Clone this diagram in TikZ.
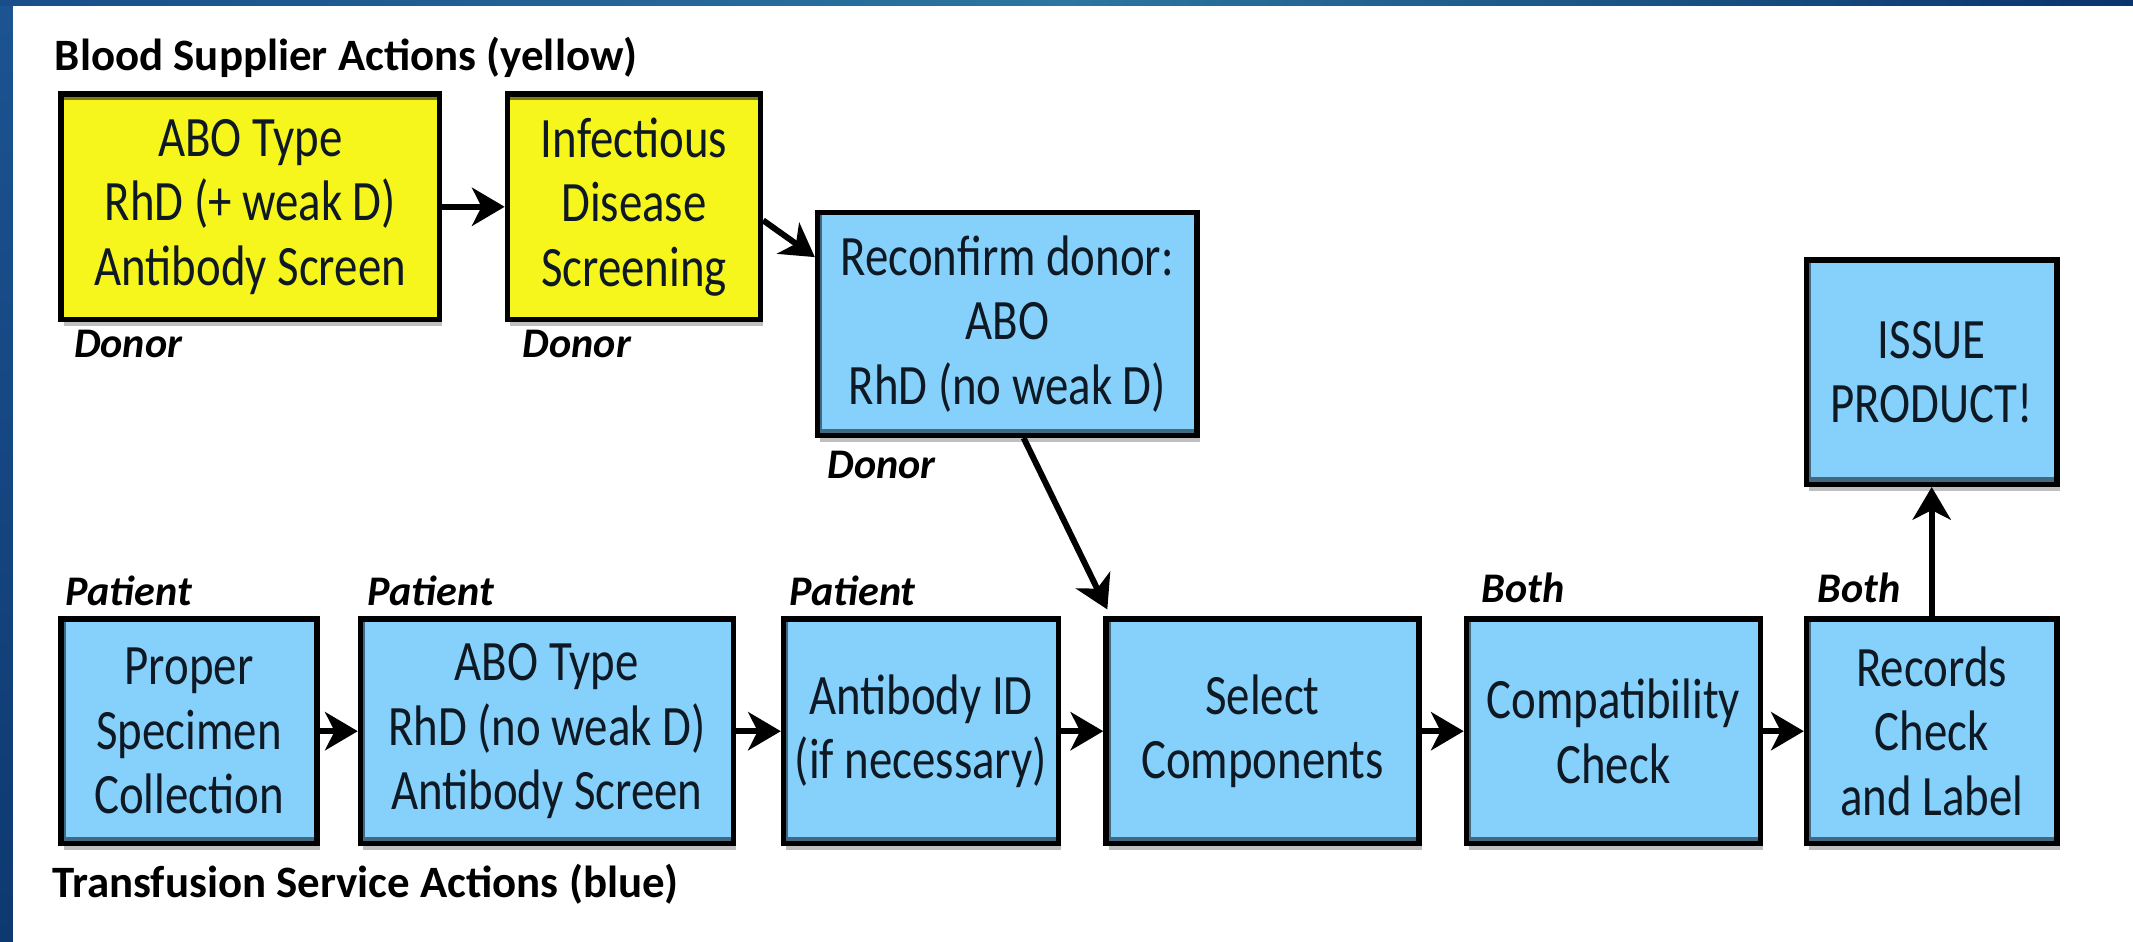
\documentclass[tikz,border=0pt]{standalone}
\usepackage{fontspec}
\setmainfont{Carlito}
\newfontfamily\boxfont{Carlito}[FakeStretch=0.82]
\usetikzlibrary{arrows.meta,shadows}
\definecolor{boxblue}{RGB}{133,209,252}
\definecolor{boxyellow}{RGB}{246,246,28}
\definecolor{stripeblue}{RGB}{66,104,130}
\definecolor{stripeyellow}{RGB}{125,125,15}
\definecolor{barA}{RGB}{28,84,145}
\definecolor{barB}{RGB}{14,56,112}
\definecolor{topA}{RGB}{24,78,138}
\definecolor{topB}{RGB}{44,118,160}
\definecolor{topC}{RGB}{10,52,108}
\definecolor{boxtext}{RGB}{15,25,35}
\begin{document}
\begin{tikzpicture}[x=0.5pt,y=-0.5pt,
  basebox/.style={draw=black, line width=2pt, inner sep=0pt, align=center,
    text=boxtext, font=\boxfont\fontsize{21}{23.7}\selectfont,
    drop shadow={shadow xshift=1pt, shadow yshift=-2.5pt, fill=black!25, opacity=1}},
  bluebox/.style={basebox, fill=boxblue,
    path picture={
      \fill[stripeblue] (path picture bounding box.south west) rectangle ([yshift=2.5pt]path picture bounding box.south east);
      \fill[stripeblue] (path picture bounding box.south west) rectangle ([xshift=1.7pt]path picture bounding box.north west);}},
  yelbox/.style={basebox, fill=boxyellow,
    path picture={
      \fill[stripeyellow] (path picture bounding box.north west) rectangle ([yshift=-2.3pt]path picture bounding box.north east);}},
  lab/.style={font=\fontsize{15.5}{18}\selectfont\bfseries\itshape, inner sep=0pt, anchor=base west},
  head/.style={font=\fontsize{16.5}{19}\selectfont\bfseries, inner sep=0pt, anchor=base west},
  arr/.style={line width=2.2pt, -{Stealth[length=12pt,width=14pt,inset=3.5pt]}}
]
% background
\fill[white] (0,0) rectangle (1568,692);
\shade[top color=barA, bottom color=barB] (0,0) rectangle (9.5,692);
\shade[left color=topA, right color=topC, middle color=topB] (0,0) rectangle (1568,3.7);
\useasboundingbox (0,0) rectangle (1568,692);

% headings
\node[head] (h1) at (40,52) {Blood Supplier Actions (yellow)};
\node[head] (h2) at (38,660) {Transfusion Service Actions (blue)};

% top row
\node[yelbox, minimum width=139pt, minimum height=83pt] (y1) at (184,152) {ABO Type\\RhD (+ weak D)\\Antibody Screen};
\node[yelbox, minimum width=93pt, minimum height=83pt] (y2) at (466,152) {Infectious\\Disease\\Screening};
\node[bluebox, minimum width=139.5pt, minimum height=82pt] (rc) at (740.5,238) {Reconfirm donor:\\ABO\\RhD (no weak D)};
\node[bluebox, minimum width=92pt, minimum height=82.5pt] (iss) at (1420,273.5) {ISSUE\\PRODUCT!};

% bottom row
\node[bluebox, minimum width=94pt, minimum height=82.5pt] (pr) at (139,537.5) {Proper\\Specimen\\Collection};
\node[bluebox, minimum width=137pt, minimum height=82.5pt] (abo) at (402,537.5) {ABO Type\\RhD (no weak D)\\Antibody Screen};
\node[bluebox, minimum width=101pt, minimum height=82.5pt] (abid) at (677,537.5) {Antibody ID\\(if necessary)};
\node[bluebox, minimum width=115pt, minimum height=82.5pt] (sel) at (928,537.5) {Select\\Components};
\node[bluebox, minimum width=108pt, minimum height=82.5pt] (cmp) at (1186,537.5) {Compatibility\\Check};
\node[bluebox, minimum width=92pt, minimum height=82.5pt] (rec) at (1420,537.5) {Records\\Check\\and Label};

% small labels
\node[lab] (d1) at (54,263) {Donor};
\node[lab] (d2) at (384,263) {Donor};
\node[lab] (d3) at (608,352) {Donor};
\node[lab] (p1) at (48,445) {Patient};
\node[lab] (p2) at (270,445) {Patient};
\node[lab] (p3) at (580,445) {Patient};
\node[lab] (b1) at (1089,443) {Both};
\node[lab] (b2) at (1336,443) {Both};

% connectors
\draw[arr] (y1) -- (y2);
\draw[arr] ([yshift=-5pt]y2.east) -- ([yshift=-17.5pt]rc.north west);
\draw[arr] ([xshift=6pt]rc.south) -- ([xshift=1.5pt,yshift=2.5pt]sel.north west);
\draw[arr] (pr) -- (abo);
\draw[arr] (abo) -- (abid);
\draw[arr] (abid) -- (sel);
\draw[arr] (sel) -- (cmp);
\draw[arr] (cmp) -- (rec);
\draw[arr] (rec) -- (iss);
\end{tikzpicture}
\end{document}
